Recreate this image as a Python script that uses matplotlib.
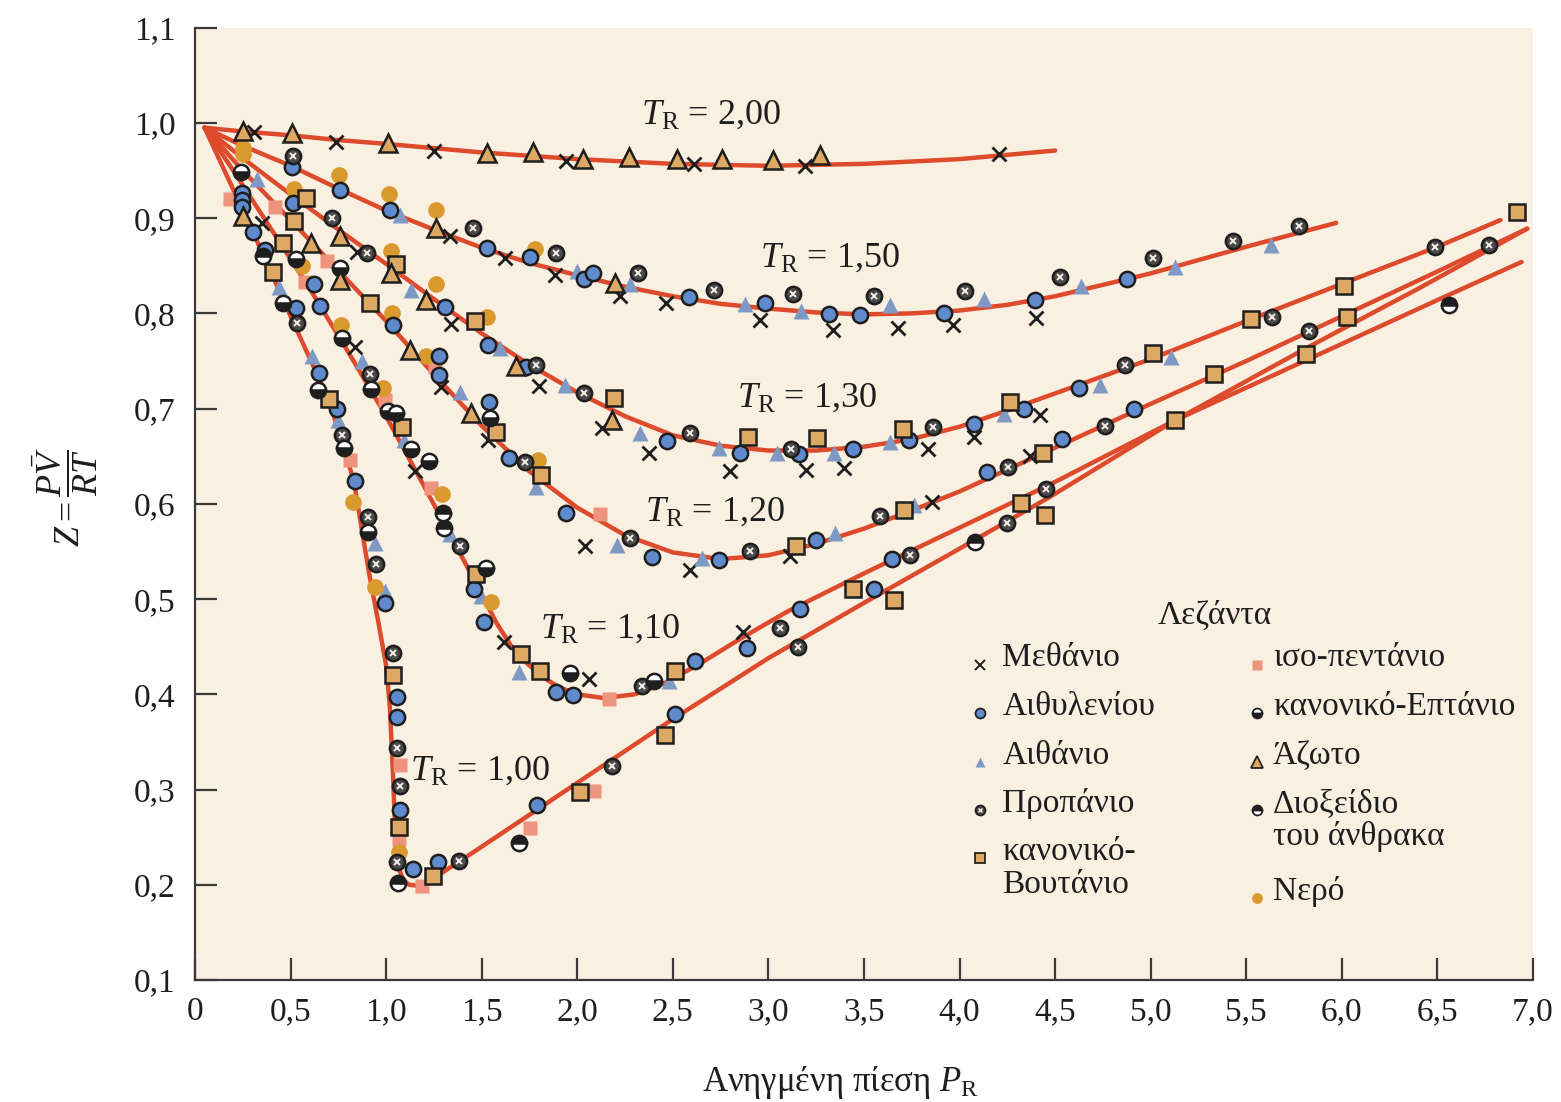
import matplotlib
matplotlib.use("Agg")
import matplotlib.pyplot as plt

plt.rcParams['font.family'] = ['Liberation Serif', 'DejaVu Serif']
plt.rcParams['mathtext.fontset'] = 'custom'
plt.rcParams['mathtext.rm'] = 'Liberation Serif'
plt.rcParams['mathtext.it'] = 'Liberation Serif:italic'
plt.rcParams['mathtext.bf'] = 'Liberation Serif:bold'

# ---- generalized compressibility curves (reduced pressure, Z) ----
tr200_x = [0.05, 0.25, 0.5, 0.75, 1.0, 1.5, 2.0, 2.5, 3.0, 3.5, 4.0, 4.5]
tr200_z = [0.995, 0.991, 0.987, 0.982, 0.978, 0.969, 0.962, 0.957, 0.955, 0.957, 0.962, 0.971]

tr150_x = [0.05, 0.25, 0.5, 0.75, 1.0, 1.25, 1.5, 1.75, 2.0, 2.25, 2.5, 2.75, 3.0, 3.25, 3.5,
           3.75, 4.0, 4.25, 4.5, 5.0, 5.5, 5.97]
tr150_z = [0.995, 0.976, 0.955, 0.931, 0.908, 0.888, 0.869, 0.853, 0.840, 0.828, 0.818, 0.810,
           0.805, 0.801, 0.799, 0.800, 0.803, 0.809, 0.818, 0.842, 0.870, 0.895]

tr130_x = [0.05, 0.25, 0.5, 0.75, 1.0, 1.25, 1.5, 1.75, 2.0, 2.25, 2.5, 2.75, 3.0, 3.25, 3.5,
           3.75, 4.0, 4.25, 4.5, 5.0, 5.5, 6.0, 6.5, 6.83]
tr130_z = [0.995, 0.963, 0.925, 0.888, 0.852, 0.815, 0.779, 0.746, 0.717, 0.692, 0.672, 0.661,
           0.656, 0.656, 0.660, 0.668, 0.681, 0.698, 0.716, 0.752, 0.792, 0.831, 0.870, 0.898]

tr120_x = [0.05, 0.25, 0.5, 0.75, 1.0, 1.25, 1.5, 1.75, 2.0, 2.25, 2.5, 2.75, 3.0, 3.25, 3.5,
           3.75, 4.0, 4.25, 4.5, 5.0, 5.5, 6.0, 6.5, 6.97]
tr120_z = [0.995, 0.950, 0.898, 0.845, 0.792, 0.736, 0.682, 0.634, 0.596, 0.567, 0.549, 0.542,
           0.546, 0.558, 0.574, 0.593, 0.613, 0.636, 0.659, 0.705, 0.750, 0.797, 0.844, 0.889]

tr110_x = [0.05, 0.2, 0.4, 0.6, 0.8, 1.0, 1.2, 1.4, 1.5, 1.58, 1.66, 1.74, 1.82, 1.9, 2.0,
           2.14, 2.3, 2.45, 2.64, 2.85, 3.1, 3.5, 4.0, 4.47, 5.13, 5.5, 6.0, 6.5, 6.94]
tr110_z = [0.995, 0.950, 0.888, 0.826, 0.760, 0.692, 0.618, 0.543, 0.505, 0.474, 0.449, 0.432,
           0.418, 0.408, 0.400, 0.396, 0.400, 0.411, 0.432, 0.458, 0.487, 0.527, 0.575, 0.620,
           0.688, 0.722, 0.768, 0.814, 0.854]

tr100_x = [0.05, 0.3, 0.5, 0.7, 0.83, 0.91, 0.96, 1.0, 1.02, 1.035, 1.045, 1.055, 1.07, 1.09,
           1.12, 1.17, 1.25, 1.5, 2.0, 2.5, 3.0, 3.5, 4.0, 4.47, 5.13, 5.8, 6.4, 6.97]
tr100_z = [0.995, 0.887, 0.797, 0.709, 0.625, 0.528, 0.475, 0.430, 0.385, 0.320, 0.268, 0.235,
           0.215, 0.205, 0.200, 0.199, 0.207, 0.240, 0.307, 0.374, 0.438, 0.496, 0.553, 0.607,
           0.688, 0.762, 0.826, 0.889]

curve_x = [tr200_x, tr150_x, tr130_x, tr120_x, tr110_x, tr100_x]
curve_z = [tr200_z, tr150_z, tr130_z, tr120_z, tr110_z, tr100_z]
curve_names = ['2,00', '1,50', '1,30', '1,20', '1,10', '1,00']
label_x = [2.70, 3.32, 3.20, 2.72, 2.17, 1.49]
label_z = [1.008, 0.858, 0.711, 0.591, 0.468, 0.319]

# ---- measured points per gas ----
methane_x = [0.308, 0.740, 1.249, 1.943, 2.61, 3.193, 4.204,
             1.333, 1.620, 1.886, 2.225, 2.466, 2.957, 3.338, 3.676, 3.965, 4.401,
             0.845, 1.341, 1.800, 2.130, 2.374, 2.797, 3.197, 3.397, 3.835, 4.077, 4.419,
             0.351, 1.289, 1.533, 2.042, 2.592, 3.111, 3.856, 4.370,
             0.836, 1.153, 1.615, 2.063, 2.867]
methane_z = [0.990, 0.980, 0.970, 0.960, 0.957, 0.955, 0.967,
             0.881, 0.858, 0.840, 0.818, 0.811, 0.793, 0.783, 0.785, 0.788, 0.795,
             0.864, 0.789, 0.724, 0.680, 0.653, 0.634, 0.636, 0.638, 0.658, 0.670, 0.693,
             0.895, 0.723, 0.667, 0.556, 0.531, 0.545, 0.602, 0.650,
             0.765, 0.634, 0.455, 0.416, 0.465]

ethylene_x = [0.247, 0.247, 0.247, 0.304, 0.365, 0.508, 0.514, 0.526, 0.621, 0.656, 0.650,
              0.745, 0.757, 0.836, 0.995, 1.019, 1.037, 1.058, 1.058, 1.070, 1.141, 1.270,
              1.275, 1.277, 1.307, 1.460, 1.512, 1.530, 1.533, 1.539, 1.641, 1.730, 1.751,
              1.790, 1.889, 1.943, 1.978, 2.034, 2.083, 2.391, 2.470, 2.513, 2.583, 2.618,
              2.740, 2.850, 2.888, 2.984, 3.158, 3.167, 3.251, 3.315, 3.443, 3.477, 3.550,
              3.646, 3.733, 3.920, 4.077, 4.143, 4.335, 4.396, 4.538, 4.626, 4.875, 4.913]
ethylene_z = [0.926, 0.919, 0.912, 0.885, 0.867, 0.954, 0.916, 0.806, 0.831, 0.808, 0.737,
              0.700, 0.930, 0.624, 0.496, 0.909, 0.788, 0.397, 0.376, 0.278, 0.217, 0.224,
              0.755, 0.735, 0.807, 0.511, 0.476, 0.869, 0.767, 0.707, 0.648, 0.744, 0.859,
              0.284, 0.402, 0.590, 0.399, 0.836, 0.842, 0.544, 0.666, 0.379, 0.817, 0.435,
              0.541, 0.653, 0.449, 0.811, 0.652, 0.490, 0.562, 0.799, 0.658, 0.798, 0.511,
              0.542, 0.667, 0.800, 0.684, 0.633, 0.700, 0.814, 0.668, 0.722, 0.836, 0.700]

ethane_x = [0.322, 0.440, 0.614, 0.749, 0.874, 0.940, 0.993, 1.071, 1.092, 1.132, 1.333,
            1.385, 1.498, 1.594, 1.696, 1.786, 1.934, 1.999, 2.208, 2.278, 2.330, 2.478,
            2.653, 2.740, 2.879, 3.046, 3.170, 3.341, 3.346, 3.634, 3.637, 3.763, 4.126,
            4.234, 4.636, 4.736, 5.107, 5.129, 5.628]
ethane_z = [0.941, 0.828, 0.755, 0.688, 0.750, 0.559, 0.509, 0.903, 0.667, 0.825, 0.568,
            0.717, 0.503, 0.764, 0.423, 0.618, 0.725, 0.845, 0.557, 0.831, 0.674, 0.414,
            0.543, 0.659, 0.810, 0.653, 0.802, 0.653, 0.569, 0.665, 0.809, 0.599, 0.815,
            0.694, 0.829, 0.725, 0.754, 0.849, 0.872]

propane_x = [0.514, 0.536, 0.719, 0.770, 0.901, 0.906, 0.914, 0.949, 1.037, 1.058, 1.071,
             1.058, 1.380, 1.385, 1.455, 1.729, 1.786, 1.891, 2.034, 2.182, 2.278, 2.316,
             2.339, 2.588, 2.713, 2.905, 3.059, 3.118, 3.128, 3.153, 3.550, 3.582, 3.742,
             3.859, 4.030, 4.248, 4.251, 4.453, 4.523, 4.762, 4.868, 5.013, 5.43, 5.633,
             5.775, 5.827, 6.485, 6.77]
propane_z = [0.965, 0.790, 0.900, 0.672, 0.863, 0.586, 0.736, 0.537, 0.443, 0.344, 0.304,
             0.224, 0.225, 0.556, 0.890, 0.644, 0.746, 0.863, 0.716, 0.325, 0.564, 0.842,
             0.409, 0.674, 0.825, 0.550, 0.470, 0.658, 0.820, 0.450, 0.818, 0.587, 0.546,
             0.681, 0.824, 0.580, 0.639, 0.616, 0.838, 0.682, 0.746, 0.858, 0.876, 0.796,
             0.892, 0.781, 0.870, 0.872]

butane_x = [0.409, 0.458, 0.519, 0.583, 0.700, 0.914, 1.054, 1.037, 1.066, 1.085, 1.244,
            1.463, 1.472, 1.577, 1.706, 1.803, 1.809, 2.016, 2.191, 2.461, 2.513, 2.894,
            3.146, 3.254, 3.443, 3.655, 3.704, 3.707, 4.265, 4.321, 4.435, 4.448, 5.01,
            5.125, 5.332, 5.524, 5.812, 6.01, 6.025, 6.917]
butane_z = [0.843, 0.874, 0.897, 0.921, 0.710, 0.811, 0.852, 0.420, 0.261, 0.681, 0.209,
            0.792, 0.526, 0.675, 0.442, 0.424, 0.630, 0.297, 0.711, 0.357, 0.425, 0.670,
            0.556, 0.669, 0.511, 0.499, 0.679, 0.594, 0.707, 0.601, 0.653, 0.588, 0.758,
            0.688, 0.736, 0.794, 0.757, 0.829, 0.796, 0.906]

isopentane_x = [0.182, 0.421, 0.574, 0.688, 0.810, 0.993, 1.075, 1.066, 1.188, 1.237, 1.254,
                1.755, 2.086, 2.121, 2.164]
isopentane_z = [0.920, 0.912, 0.833, 0.855, 0.646, 0.709, 0.326, 0.248, 0.199, 0.617, 0.744,
                0.260, 0.298, 0.589, 0.395]

heptane_x = [0.240, 0.458, 0.526, 0.644, 0.761, 0.771, 0.780, 0.906, 0.919, 1.010, 1.054,
             1.129, 1.223, 1.521, 1.542, 1.964, 2.403]
heptane_z = [0.948, 0.811, 0.857, 0.720, 0.848, 0.774, 0.659, 0.570, 0.721, 0.697, 0.695,
             0.658, 0.645, 0.533, 0.690, 0.422, 0.414]

nitrogen_x = [0.252, 0.508, 1.010, 1.530, 1.769, 2.03, 2.27, 2.52, 2.757, 3.024, 3.268,
              0.252, 0.609, 0.761, 0.761, 1.024, 1.127, 1.207, 1.259, 1.446, 1.678, 2.182, 2.199]
nitrogen_z = [0.992, 0.989, 0.979, 0.968, 0.969, 0.962, 0.964, 0.962, 0.962, 0.961, 0.966,
              0.902, 0.874, 0.881, 0.835, 0.842, 0.762, 0.814, 0.890, 0.695, 0.745, 0.688, 0.832]

co2_x = [0.357, 1.061, 1.693, 4.082, 6.562, 1.298, 1.301]
co2_z = [0.860, 0.202, 0.244, 0.560, 0.809, 0.590, 0.575]

water_x = [0.252, 0.252, 0.519, 0.562, 0.752, 0.766, 0.824, 0.944, 0.981, 1.014, 1.024,
           1.033, 1.066, 1.207, 1.263, 1.263, 1.293, 1.528, 1.551, 1.777, 1.795]
water_z = [0.974, 0.967, 0.931, 0.850, 0.945, 0.788, 0.602, 0.513, 0.722, 0.925, 0.865,
           0.800, 0.234, 0.755, 0.909, 0.831, 0.610, 0.796, 0.497, 0.868, 0.646]

x_ticks = [0, 0.5, 1.0, 1.5, 2.0, 2.5, 3.0, 3.5, 4.0, 4.5, 5.0, 5.5, 6.0, 6.5, 7.0]
x_tick_labels = ['0', '0,5', '1,0', '1,5', '2,0', '2,5', '3,0', '3,5', '4,0', '4,5',
                 '5,0', '5,5', '6,0', '6,5', '7,0']
y_ticks = [0.1, 0.2, 0.3, 0.4, 0.5, 0.6, 0.7, 0.8, 0.9, 1.0, 1.1]
y_tick_labels = ['0,1', '0,2', '0,3', '0,4', '0,5', '0,6', '0,7', '0,8', '0,9', '1,0', '1,1']

# ---- styles ----
BG = '#FAF0E2'
CURVE = '#DD4A2C'
INK = '#1E1E1E'
BLUE = '#5F8ACB'
SLATE = '#7E99C3'
TAN = '#DDA864'
SALMON = '#EE937D'
GOLD = '#D89A2E'
FS = 24

styles = {
    'methane': dict(marker='x', ls='none', color=INK, ms=10, mew=2.0),
    'ethylene': dict(marker='o', ls='none', mfc=BLUE, mec=INK, ms=11, mew=1.8),
    'ethane': dict(marker='^', ls='none', mfc=SLATE, mec='none', ms=12),
    'propane': dict(marker='o', ls='none', mfc='#4A4A4A', mec=INK, ms=11, mew=1.8),
    'butane': dict(marker='s', ls='none', mfc=TAN, mec=INK, ms=11, mew=1.8),
    'isopentane': dict(marker='s', ls='none', mfc=SALMON, mec='none', ms=10),
    'heptane': dict(marker='o', ls='none', mfc=INK, mfcalt='#FFFFFF', fillstyle='bottom',
                    mec=INK, ms=11, mew=1.8),
    'nitrogen': dict(marker='^', ls='none', mfc=TAN, mec=INK, ms=13, mew=1.8),
    'co2': dict(marker='o', ls='none', mfc=INK, mfcalt='#FFFFFF', fillstyle='top',
                mec=INK, ms=11, mew=1.8),
    'water': dict(marker='o', ls='none', mfc=GOLD, mec='none', ms=12),
}
# white cross drawn over the dark propane disc
propane_mark = dict(ls='none', marker='x', color='#F4EEE6', ms=5.0, mew=1.4)

fig = plt.figure(figsize=(15.61, 11.02), dpi=100)
ax = fig.add_axes([195 / 1561, 1 - 980 / 1102, 1338 / 1561, 952.3 / 1102])
ax.set_facecolor(BG)

for xs, zs in zip(curve_x, curve_z):
    ax.plot(xs, zs, color=CURVE, lw=3.2, solid_capstyle='round', solid_joinstyle='round',
            zorder=2)

series = [
    (methane_x, methane_z, 'methane'),
    (isopentane_x, isopentane_z, 'isopentane'),
    (ethane_x, ethane_z, 'ethane'),
    (water_x, water_z, 'water'),
    (ethylene_x, ethylene_z, 'ethylene'),
    (propane_x, propane_z, 'propane'),
    (butane_x, butane_z, 'butane'),
    (heptane_x, heptane_z, 'heptane'),
    (nitrogen_x, nitrogen_z, 'nitrogen'),
    (co2_x, co2_z, 'co2'),
]
for xs, zs, key in series:
    ax.plot(xs, zs, zorder=3, **styles[key])
    if key == 'propane':
        ax.plot(xs, zs, zorder=4, **propane_mark)

for name, lx, lz in zip(curve_names, label_x, label_z):
    ax.text(lx, lz, r'$T_\mathrm{R}$ = ' + name, fontsize=26, ha='center', va='center',
            color=INK, zorder=5)

ax.set_xlim(0, 7.0)
ax.set_ylim(0.1, 1.1)
ax.set_xticks(x_ticks)
ax.set_xticklabels(x_tick_labels)
ax.set_yticks(y_ticks)
ax.set_yticklabels(y_tick_labels)
ax.tick_params(direction='in', length=16, width=1.6, color='#3A3A3A', labelsize=FS,
               labelcolor=INK)
ax.tick_params(axis='y', pad=14)
ax.tick_params(axis='x', pad=12)
for side in ('top', 'right'):
    ax.spines[side].set_visible(False)
for side in ('left', 'bottom'):
    ax.spines[side].set_color('#3A3A3A')
    ax.spines[side].set_linewidth(1.6)

ax.text(0.482, -0.108, r'Ανηγμένη πίεση $P_\mathrm{R}$', transform=ax.transAxes,
        fontsize=FS + 1, ha='center', va='center', color=INK)
ax.text(-0.097, 0.507, r'$Z = \dfrac{P\bar{V}}{RT}$', transform=ax.transAxes,
        fontsize=FS + 2, ha='center', va='center', rotation=90, color=INK)

# ---- legend panel ----
ax.text(0.7623, 0.383, 'Λεζάντα', transform=ax.transAxes, fontsize=FS,
        ha='center', va='center', color=INK)
col1 = [('methane', 'Μεθάνιο'), ('ethylene', 'Αιθυλενίου'), ('ethane', 'Αιθάνιο'),
        ('propane', 'Προπάνιο'), ('butane', 'κανονικό-\nΒουτάνιο')]
col2 = [('isopentane', 'ισο-πεντάνιο'), ('heptane', 'κανονικό-Επτάνιο'),
        ('nitrogen', 'Άζωτο'), ('co2', 'Διοξείδιο\nτου άνθρακα'), ('water', 'Νερό')]
col1_rows = [0.331, 0.280, 0.229, 0.1785, 0.128]
col2_rows = [0.331, 0.280, 0.229, 0.1785, 0.086]
for cx, tx, entries, rows in ((0.5867, 0.6035, col1, col1_rows),
                              (0.7937, 0.8057, col2, col2_rows)):
    for (key, text), ry in zip(entries, rows):
        st = dict(styles[key])
        st['ms'] = st['ms'] * 0.65
        st['mew'] = st.get('mew', 1.0) * 0.7
        ax.plot([cx], [ry], transform=ax.transAxes, clip_on=False, zorder=6, **st)
        if key == 'propane':
            pm = dict(propane_mark)
            pm['ms'] = 3.2
            pm['mew'] = 1.0
            ax.plot([cx], [ry], transform=ax.transAxes, zorder=7, **pm)
        ax.text(tx, ry + 0.023, text, transform=ax.transAxes, fontsize=FS, ha='left',
                va='top', color=INK, linespacing=1.12)

fig.savefig('out.png', dpi=100, facecolor='white')
